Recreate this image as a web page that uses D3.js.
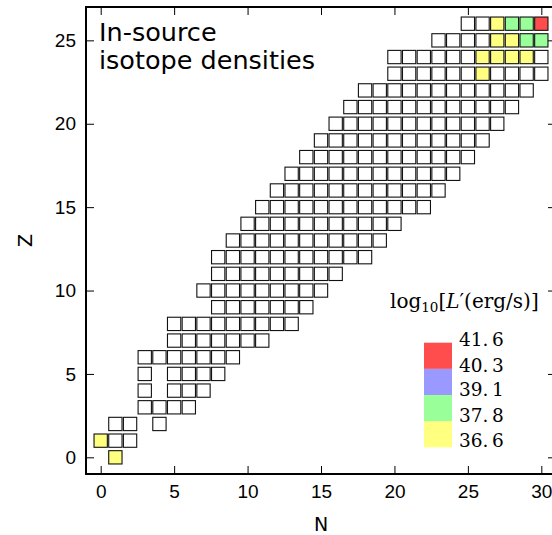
<!DOCTYPE html>
<html lang="en">
<head>
    <meta charset="UTF-8">
    <title>In-source isotope densities</title>
    <script src="https://cdn.jsdelivr.net/npm/d3@7"></script>
    <style>
        * { margin: 0; padding: 0; }
        body { background: #fff; }
        svg { display: block; font-family: "DejaVu Sans", sans-serif; }
        .legend text { font-family: "DejaVu Serif", serif; }
    </style>
</head>
<body>
    <svg id="chart" width="552" height="535"></svg>

    <script>
        // Proton number of each row, and the runs of neutron numbers drawn in it
        const rowZ = [0, 1, 2, 3, 4, 5, 6, 7, 8, 9, 10, 11, 12, 13,
                      14, 15, 16, 17, 18, 19, 20, 21, 22, 23, 24, 25, 26];
        const rowRuns = [
            [[1, 1]],
            [[0, 2]],
            [[1, 2], [4, 4]],
            [[3, 6]],
            [[3, 3], [5, 7]],
            [[3, 3], [5, 8]],
            [[3, 9]],
            [[5, 11]],
            [[5, 13]],
            [[8, 14]],
            [[7, 15]],
            [[8, 16]],
            [[8, 18]],
            [[9, 19]],
            [[10, 20]],
            [[11, 22]],
            [[12, 23]],
            [[13, 24]],
            [[14, 25]],
            [[15, 26]],
            [[16, 27]],
            [[17, 28]],
            [[18, 29]],
            [[20, 30]],
            [[20, 30]],
            [[23, 30]],
            [[25, 30]]
        ];

        // Isotopes with a luminosity colour (bin 0 = lowest)
        const hotZ   = [26, 26, 26, 26, 25, 25, 25, 25, 24, 24, 24, 24, 23, 1, 0];
        const hotN   = [27, 28, 29, 30, 27, 28, 29, 30, 26, 27, 28, 29, 26, 0, 1];
        const hotBin = [ 0,  1,  1,  3,  0,  0,  1,  1,  0,  0,  0,  0,  0, 0, 0];

        // Colour bar
        const legendTicks = [36.6, 37.8, 39.1, 40.3, 41.6];
        const binColors = ["#ffff80", "#99ff99", "#9999ff", "#ff4d4d"];

        const axisTicks = [0, 5, 10, 15, 20, 25, 30];

        // --- layout ---
        const svg = d3.select("#chart");
        const pLeft = 86, pRight = 556, pTop = 7, pBottom = 474;

        const x = d3.scaleLinear().domain([-1, 31]).range([pLeft, pRight]);
        const y = d3.scaleLinear().domain([-1, 27]).range([pBottom, pTop]);
        const box = 13.3;

        // build the cell list from the rows
        const colorOf = new Map();
        hotZ.forEach((z, i) => colorOf.set(z + ":" + hotN[i], binColors[hotBin[i]]));

        const cells = [];
        rowZ.forEach((z, i) => {
            rowRuns[i].forEach(([a, b]) => {
                d3.range(a, b + 1).forEach(n => cells.push({ z, n }));
            });
        });

        svg.append("g")
            .selectAll("rect")
            .data(cells)
            .join("rect")
            .attr("x", d => x(d.n) - box / 2)
            .attr("y", d => y(d.z) - box / 2)
            .attr("width", box)
            .attr("height", box)
            .attr("fill", d => colorOf.get(d.z + ":" + d.n) || "#fff")
            .attr("stroke", "#111")
            .attr("stroke-width", 1.1);

        // axes, ticks pointing inward on all four sides
        const styleAxis = g => {
            g.select(".domain").remove();
            g.selectAll(".tick line").attr("stroke", "#000").attr("stroke-width", 1);
            g.selectAll(".tick text").attr("fill", "#000").style("font-size", "19px");
        };

        svg.append("g")
            .attr("transform", `translate(0,${pBottom})`)
            .call(d3.axisBottom(x).tickValues(axisTicks).tickSize(-8).tickPadding(11))
            .call(styleAxis);

        svg.append("g")
            .attr("transform", `translate(0,${pTop})`)
            .call(d3.axisTop(x).tickValues(axisTicks).tickSize(-8).tickFormat(""))
            .call(styleAxis);

        svg.append("g")
            .attr("transform", `translate(${pLeft},0)`)
            .call(d3.axisLeft(y).tickValues(axisTicks.slice(0, 6)).tickSize(-8).tickPadding(10))
            .call(styleAxis);

        svg.append("g")
            .attr("transform", `translate(${pRight},0)`)
            .call(d3.axisRight(y).tickValues(axisTicks.slice(0, 6)).tickSize(-8).tickFormat(""))
            .call(styleAxis);

        svg.append("rect")
            .attr("x", pLeft).attr("y", pTop)
            .attr("width", pRight - pLeft).attr("height", pBottom - pTop)
            .attr("fill", "none")
            .attr("stroke", "#000")
            .attr("stroke-width", 2);

        // axis labels
        svg.append("text")
            .attr("x", x(15))
            .attr("y", 531)
            .attr("text-anchor", "middle")
            .style("font-size", "19px")
            .text("N");

        svg.append("text")
            .attr("transform", `translate(32,${(pTop + pBottom) / 2}) rotate(-90)`)
            .attr("text-anchor", "middle")
            .style("font-size", "19px")
            .text("Z");

        // title inside the plot
        const title = svg.append("text")
            .attr("x", 99)
            .style("font-size", "25.5px");
        title.append("tspan").attr("x", 99).attr("y", 41).text("In-source");
        title.append("tspan").attr("x", 99).attr("y", 69).text("isotope densities");

        // colour bar legend
        const legend = svg.append("g").attr("class", "legend");

        const binY = d3.scaleBand()
            .domain(d3.range(binColors.length).reverse())
            .range([342.7, 447.3])
            .paddingInner(0);

        legend.selectAll("rect")
            .data(binColors)
            .join("rect")
            .attr("x", 424)
            .attr("y", (c, i) => binY(i))
            .attr("width", 28)
            .attr("height", binY.bandwidth())
            .attr("fill", c => c);

        const labelY = d3.scaleLinear()
            .domain([legendTicks[legendTicks.length - 1], legendTicks[0]])
            .range([339, 440]);

        legend.selectAll("text.val")
            .data(legendTicks)
            .join("text")
            .attr("class", "val")
            .attr("x", 459)
            .attr("y", d => labelY(d))
            .attr("dy", "0.36em")
            .style("font-size", "18.5px")
            .text(d => d.toFixed(1).replace(".", ".\u2009"));

        const lt = legend.append("text")
            .attr("x", 390)
            .attr("y", 308)
            .style("font-size", "20px");
        lt.append("tspan").text("log");
        lt.append("tspan").attr("dy", 4).style("font-size", "13.5px").text("10");
        lt.append("tspan").attr("dy", -4).text("[");
        lt.append("tspan").style("font-style", "italic").text("L");
        lt.append("tspan").text("\u2032(erg/s)]");
    </script>
</body>
</html>
